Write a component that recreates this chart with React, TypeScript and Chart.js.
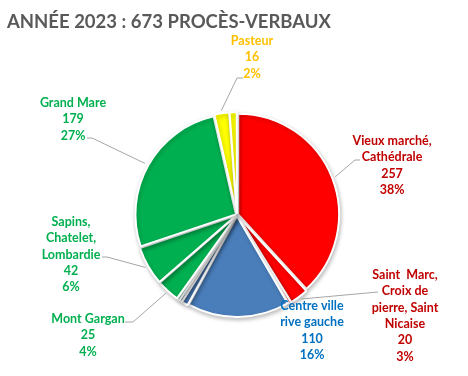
import React, { useEffect, useRef } from "react";
import { Chart, registerables } from "chart.js";

Chart.register(...registerables);

const TITLE = "ANNÉE 2023 : 673 PROCÈS-VERBAUX";

const categories = [
  "Vieux marché,\nCathédrale",
  "Saint  Marc,\nCroix de\npierre, Saint\nNicaise",
  "",
  "Centre ville\nrive gauche",
  "",
  "",
  "",
  "Mont Gargan",
  "Sapins,\nChatelet,\nLombardie",
  "Grand Mare",
  "Pasteur",
  "",
];

const values = [257, 20, 3, 110, 7, 3, 3, 25, 42, 179, 16, 8];

const sliceColors = [
  "#FF0000", "#FF0000", "#FF0000",
  "#4A7EBB", "#4A7EBB", "#4A7EBB",
  "#00B050", "#00B050", "#00B050", "#00B050",
  "#FFFF00", "#FFFF00",
];

const labelColors = [
  "#C00000", "#C00000", "#C00000",
  "#0070C0", "#0070C0", "#0070C0",
  "#00B050", "#00B050", "#00B050", "#00B050",
  "#FFC000", "#FFC000",
];

// label layout: center x, first line center y, leader [elbowX, elbowY, endX] or null
const labelLayout: ({ x: number; y: number; leader: number[] | null } | null)[] = [
  { x: 392, y: 141, leader: [355, 160, 360] },
  { x: 405, y: 275, leader: [378, 292, 378] },
  null,
  { x: 312, y: 306, leader: null },
  null,
  null,
  null,
  { x: 88, y: 319, leader: [133, 322, 125] },
  { x: 71, y: 222, leader: [107, 257, 102] },
  { x: 73, y: 103, leader: [92, 138, 87] },
  { x: 252, y: 41, leader: [237, 78, 243] },
  null,
];

const FONT = "Lato";
const LINE_H = 16.3;

export default function App() {
  const ref = useRef<HTMLCanvasElement>(null);
  useEffect(() => {
    document.body.style.margin = "0";
    const canvas = ref.current!;
    const total = values.reduce((a, b) => a + b, 0);

    const shadowPlugin = {
      id: "shadow",
      beforeDatasetsDraw(chart: any) {
        const c = chart.ctx;
        c.save();
        c.shadowColor = "rgba(0,0,0,0.25)";
        c.shadowBlur = 4;
        c.shadowOffsetX = 1;
        c.shadowOffsetY = 2;
      },
      afterDatasetsDraw(chart: any) {
        chart.ctx.restore();
      },
    };

    const labelPlugin = {
      id: "labels",
      afterDraw(chart: any) {
        const c = chart.ctx;
        c.save();
        // title
        c.fillStyle = "#595959";
        c.font = `bold 18.5px ${FONT}`;
        c.textAlign = "left";
        c.textBaseline = "alphabetic";
        c.fillText(TITLE, 7, 28);

        const meta = chart.getDatasetMeta(0);
        meta.data.forEach((arc: any, i: number) => {
          const lay = labelLayout[i];
          if (!lay) return;
          const p = arc.getProps(["x", "y", "startAngle", "endAngle", "outerRadius"], true);
          const off = arc.options.offset || 0;
          const mid = (p.startAngle + p.endAngle) / 2;
          const r = p.outerRadius + off;
          const ax = p.x + Math.cos(mid) * r;
          const ay = p.y + Math.sin(mid) * r;
          if (lay.leader) {
            const [ex, ey, endX] = lay.leader;
            c.strokeStyle = "#A6A6A6";
            c.lineWidth = 1;
            c.beginPath();
            c.moveTo(ax, ay);
            c.lineTo(ex, ey);
            c.lineTo(endX, ey);
            c.stroke();
          }
          const lines = categories[i].split("\n");
          lines.push(String(values[i]));
          lines.push(Math.round((values[i] / total) * 100) + "%");
          c.fillStyle = labelColors[i];
          c.font = `bold 12.5px ${FONT}`;
          c.textAlign = "center";
          c.textBaseline = "middle";
          lines.forEach((t, k) => c.fillText(t, lay.x, lay.y + k * LINE_H));
        });
        c.restore();
      },
    };

    const chart = new Chart(canvas, {
      type: "pie",
      data: {
        labels: categories.map((c) => c.replace(/\n/g, " ")),
        datasets: [
          {
            data: values,
            backgroundColor: sliceColors,
            borderColor: "#FFFFFF",
            borderWidth: 2,
            offset: 5,
          },
        ],
      },
      options: {
        responsive: false,
        animation: false,
        layout: { padding: { top: 111, bottom: 57, left: 130, right: 124 } },
        plugins: {
          legend: { display: false },
          tooltip: { enabled: false },
          title: { display: false },
        },
      },
      plugins: [shadowPlugin, labelPlugin],
    });
    return () => chart.destroy();
  }, []);
  return <canvas ref={ref} width={468} height={376} style={{ display: "block" }} />;
}
